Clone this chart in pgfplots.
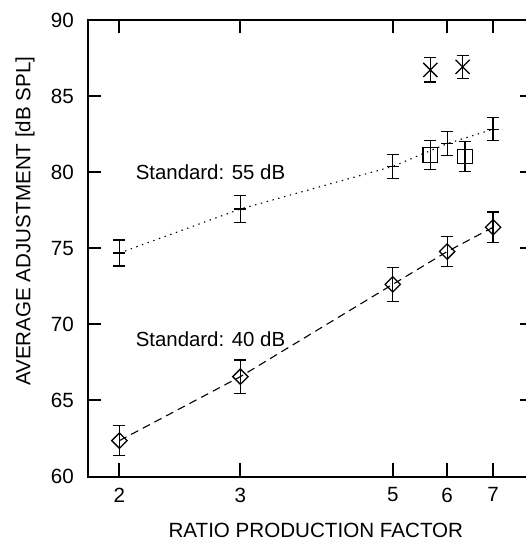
\documentclass[border=0pt]{standalone}
\usepackage{fontspec}
\setmainfont{Liberation Sans}
\usepackage{pgfplots}
\pgfplotsset{compat=1.18}

\begin{document}
\fontsize{10.2bp}{12.2bp}\selectfont
\begin{tikzpicture}
\useasboundingbox (0,0) rectangle (263bp,270bp);
\clip (0,0) rectangle (263bp,270bp);
\begin{axis}[
    at={(44bp,31.75bp)}, anchor=south west,
    scale only axis, width=222.5bp, height=228bp,
    xmode=log, xmin=1.8, xmax=8,
    ymin=60, ymax=90,
    xtick={2,3,5,6,7}, xticklabels={2,3,5,6,7},
    minor xtick={},
    ytick={60,65,...,90},
    /pgf/number format/assume math mode=true,
    tick align=inside,
    major tick length=6.5bp,
    tick style={line width=1bp, black},
    axis line style={line width=1bp},
    ticklabel style={font=\fontsize{10.3bp}{12.3bp}\selectfont},
    yticklabel style={xshift=-3.5bp},
    xticklabel style={yshift=-2bp},
    xlabel={RATIO PRODUCTION FACTOR},
    ylabel={AVERAGE ADJUSTMENT [dB SPL]},
    label style={font=\fontsize{10.3bp}{12.3bp}\selectfont},
    xlabel style={at={(axis description cs:0.512,-0.1173)}, anchor=center},
    ylabel style={at={(axis description cs:-0.1416,0.56)}, anchor=center},
    error bars/error bar style={line width=0.65bp, solid},
    error bars/error mark options={rotate=90, mark size=3bp, line width=0.65bp, solid},
    clip=false,
]
% 55 dB standard
\addplot[black, line width=0.55bp, dash pattern=on 0.7bp off 2.3bp,
    mark=+, mark size=3bp, mark options={solid, line width=0.65bp},
    error bars/.cd, y dir=both, y explicit]
  coordinates {
    (2,74.7) +- (0,0.85)
    (3,77.6) +- (0,0.9)
    (5,80.4) +- (0,0.8)
    (6,81.9) +- (0,0.78)
    (7,82.85) +- (0,0.75)
  };
% 40 dB standard
\addplot[black, line width=0.55bp, dash pattern=on 4bp off 2.6bp,
    mark=square, mark size=2.7bp, mark options={solid, rotate=45, line width=0.65bp},
    error bars/.cd, y dir=both, y explicit]
  coordinates {
    (2,62.36) +- (0,1.0)
    (3,66.57) +- (0,1.1)
    (5,72.64) +- (0,1.13)
    (6,74.8) +- (0,1.0)
    (7,76.4) +- (0,1.0)
  };
% squares
\addplot[black, only marks, mark=square, mark size=3.6bp,
    mark options={solid, line width=0.65bp},
    error bars/.cd, y dir=both, y explicit]
  coordinates {
    (5.67,81.15) +- (0,0.95)
    (6.37,81.05) +- (0,1.0)
  };
% crosses
\addplot[black, only marks, mark=x, mark size=5bp,
    mark options={solid, line width=0.65bp},
    error bars/.cd, y dir=both, y explicit]
  coordinates {
    (5.67,86.75) +- (0,0.8)
    (6.32,86.95) +- (0,0.75)
  };
\node[anchor=west, inner sep=0pt] at (axis cs:2.11,80) {Standard: 55 dB};
\node[anchor=west, inner sep=0pt] at (axis cs:2.11,69) {Standard: 40 dB};
\end{axis}
\end{tikzpicture}
\end{document}
